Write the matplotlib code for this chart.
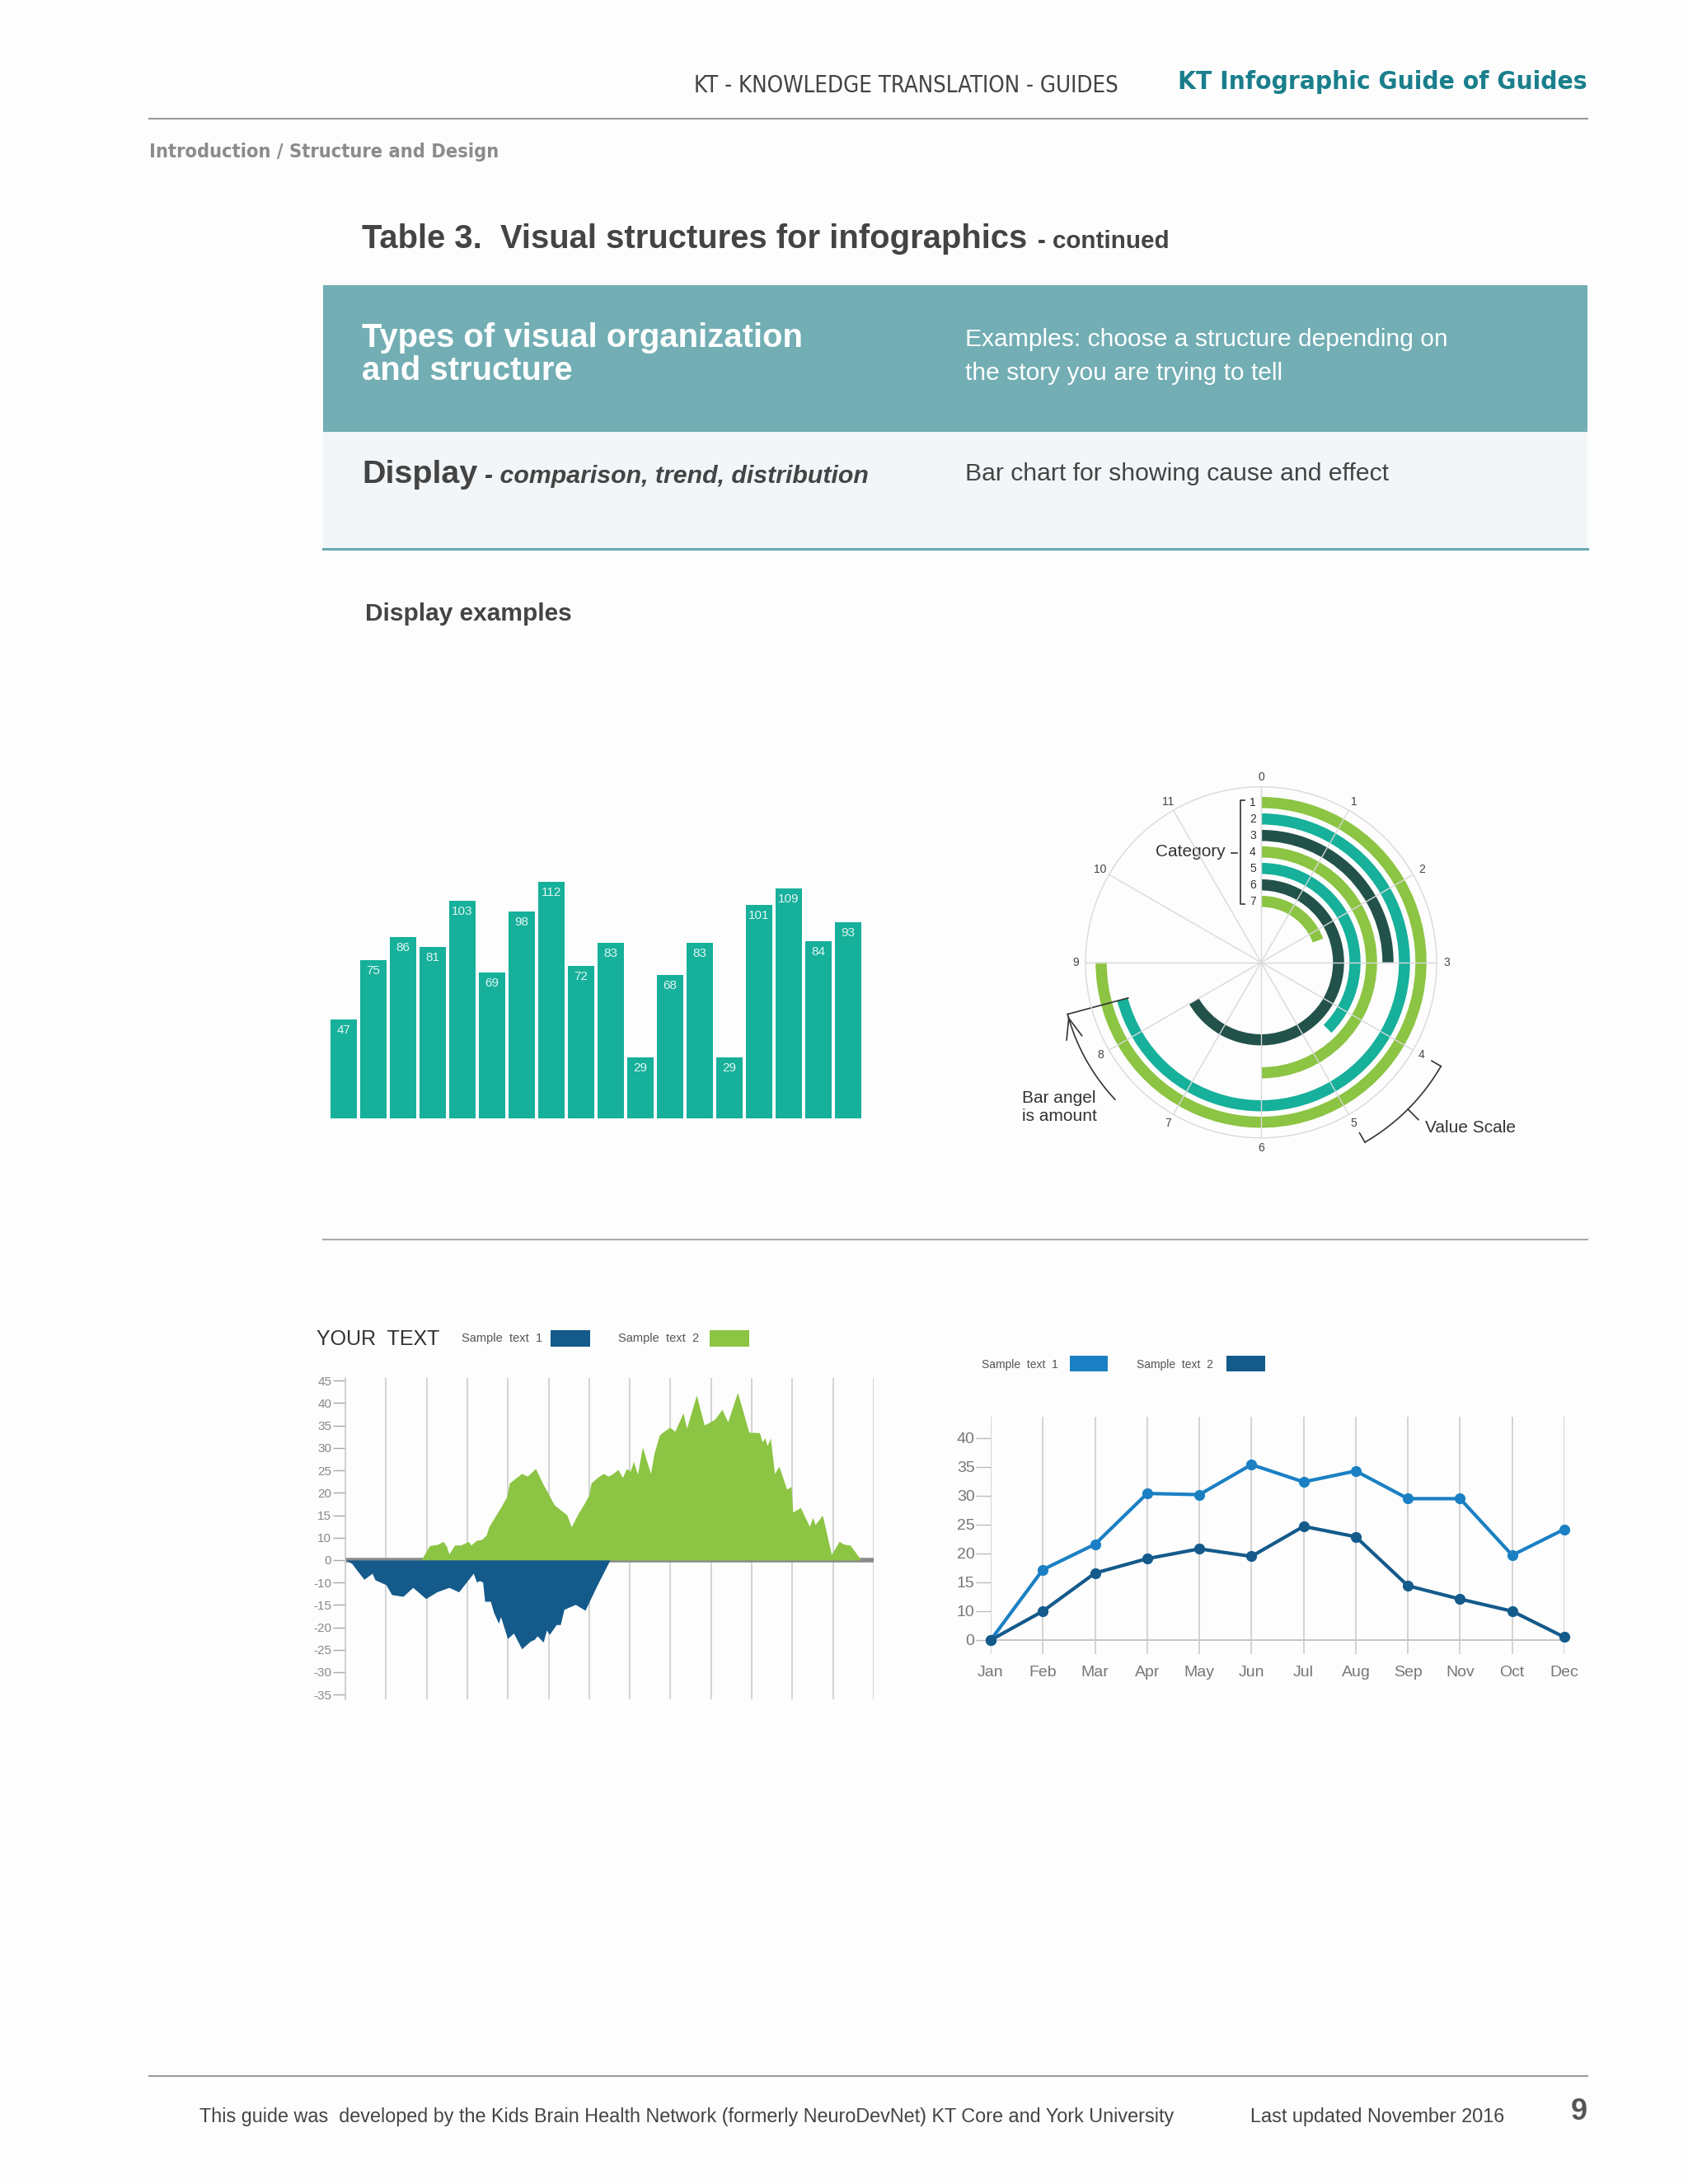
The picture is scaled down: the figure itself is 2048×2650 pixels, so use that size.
import numpy as np
import matplotlib
matplotlib.use('Agg')
import matplotlib.pyplot as plt
from matplotlib.patches import Rectangle
from matplotlib import font_manager

W, H = 2048, 2650

_fonts = font_manager.fontManager.ttflist
_names = {f.name for f in _fonts}
if 'Liberation Sans Narrow' in _names:
    NARROW = dict(family='Liberation Sans Narrow')
elif any(f.name == 'DejaVu Sans' and 'condensed' in str(f.stretch) for f in _fonts):
    NARROW = dict(family='DejaVu Sans', fontstretch='condensed')
else:
    NARROW = dict(family='Liberation Sans')
plt.rcParams['font.family'] = ['Liberation Sans', 'DejaVu Sans']

# colours
TEAL = '#16b09b'
GREEN = '#8cc443'
DARK = '#22524a'
BLUE = '#145a8b'
LIGHTBLUE = '#1b80c3'
GRID = '#cccccc'

# bar chart data
bar_values = [47, 75, 86, 81, 103, 69, 98, 112, 72, 83, 29, 68, 83, 29, 101, 109, 84, 93]

# radial bar chart data (angle in clock hours)
ring_cats = [1, 2, 3, 4, 5, 6, 7]
ring_hours = [9, 8.5, 3, 6, 4.5, 8, 2.3]
ring_colors = [GREEN, TEAL, DARK, GREEN, TEAL, DARK, GREEN]
hour_labels = [str(h) for h in range(12)]

# area chart data (x in grid intervals)
green_x = [1.865, 2.07, 2.16, 2.27, 2.41, 2.49, 2.55, 2.69, 2.84, 3.03, 3.09, 3.23, 3.36,
           3.47, 3.53, 3.67, 3.84, 3.97, 4.04, 4.21, 4.34, 4.48, 4.68, 4.85, 5.00, 5.14,
           5.32, 5.45, 5.56, 5.73, 5.86, 5.99, 6.05, 6.20, 6.35, 6.47, 6.59, 6.71, 6.82,
           6.92, 7.01, 7.09, 7.19, 7.31, 7.51, 7.60, 7.73, 7.84, 7.98, 8.11, 8.31, 8.40,
           8.64, 8.83, 8.96, 9.09, 9.27, 9.41, 9.65, 9.93, 10.19, 10.26, 10.32, 10.38,
           10.46, 10.56, 10.67, 10.86, 10.97, 11.01, 11.20, 11.42, 11.50, 11.56, 11.74,
           11.96, 12.15, 12.28, 12.42, 12.69]
green_y = [0, 6.4, 6.7, 7.0, 8.3, 6.1, 2.7, 6.7, 6.7, 8.3, 6.7, 8.8, 9.2,
           10.6, 12.4, 14.5, 17.0, 19.1, 22.2, 23.4, 24.3, 23.7, 25.4, 22.2, 19.7, 17.3,
           16.0, 15.1, 12.4, 15.4, 17.3, 19.4, 22.2, 23.4, 24.3, 23.7, 24.3, 25.2, 23.4,
           25.4, 24.8, 27.0, 24.1, 30.2, 24.3, 28.9, 32.9, 33.7, 34.6, 33.7, 37.8, 34.4,
           41.8, 35.1, 35.7, 36.4, 38.6, 35.8, 42.4, 33.5, 33.4, 31.3, 32.3, 30.5,
           32.2, 24.3, 25.9, 20.8, 21.4, 15.7, 16.7, 12.5, 14.5, 12.9, 15.0,
           2.5, 8.3, 7.0, 6.7, 0]
blue_x = [0, 0.16, 0.29, 0.46, 0.66, 0.73, 1.0, 1.14, 1.42, 1.66, 1.98, 2.25, 2.55, 2.79,
          3.15, 3.23, 3.30, 3.38, 3.43, 3.57, 3.65, 3.77, 3.82, 3.99, 4.14, 4.34, 4.55,
          4.65, 4.72, 4.87, 4.95, 5.02, 5.19, 5.29, 5.38, 5.66, 5.90, 6.20, 6.51]
blue_y = [0, -1.5, -4.7, -8.6, -5.9, -8.8, -10.5, -12.7, -13.1, -11.1, -13.6, -12.1, -11.1, -12.1,
          -5.9, -9.8, -9.2, -9.8, -14.2, -14.2, -16.7, -19.1, -17.6, -22.5, -21.3, -24.8, -23.1,
          -22.7, -21.9, -23.3, -20.6, -21.6, -19.4, -19.4, -16.0, -14.9, -16.2, -10.5, 0]
area_ticks = [-35, -30, -25, -20, -15, -10, 0, 10, 15, 20, 25, 30, 35, 40, 45]

# line chart data
months = ['Jan', 'Feb', 'Mar', 'Apr', 'May', 'Jun', 'Jul', 'Aug', 'Sep', 'Nov', 'Oct', 'Dec']
series1 = [0, 17.2, 21.6, 30.4, 30.2, 35.4, 32.4, 34.3, 29.5, 29.5, 19.7, 24.2]
series2 = [0, 10, 16.6, 19.1, 20.8, 19.5, 24.7, 22.9, 14.4, 12.1, 10, 1]
line_ticks = [0, 10, 15, 20, 25, 30, 35, 40]


def frame(x0, y0, x1, y1):
    # pixel box (top-down) -> figure fraction
    return [x0 / W, 1 - y1 / H, (x1 - x0) / W, (y1 - y0) / H]


# the axis in these templates skips 5 / -5: 0..10 takes one step
def squeeze(y):
    y = np.asarray(y, dtype=float)
    return np.where(np.abs(y) < 10, y / 2, np.sign(y) * (np.abs(y) - 5))


def unsqueeze(u):
    u = np.asarray(u, dtype=float)
    return np.where(np.abs(u) < 5, u * 2, np.sign(u) * (np.abs(u) + 5))


fig = plt.figure(figsize=(W / 100, H / 100), dpi=100)
fig.patch.set_facecolor('#fdfdfd')
renderer = fig.canvas.get_renderer()

page = fig.add_axes([0, 0, 1, 1])
page.set_xlim(0, W)
page.set_ylim(H, 0)
page.axis('off')


def fit(t, width_px):
    # scale the font so the text spans the width it has on the page
    w = t.get_window_extent(renderer).width
    t.set_fontsize(t.get_fontsize() * width_px / w)
    return t.get_fontsize()


# header
fit(page.text(1357, 104, 'KT - KNOWLEDGE TRANSLATION - GUIDES', ha='right', va='center',
              fontsize=20, color='#444444', **NARROW), 517)
fit(page.text(1926, 99, 'KT Infographic Guide of Guides', ha='right', va='center',
              fontsize=27, color='#1a7f8c', weight='bold', **NARROW), 495)
page.plot([181, 1926], [144, 144], color='#9a9a9a', lw=1.5)
fit(page.text(181, 185, 'Introduction / Structure and Design', ha='left', va='center',
              fontsize=20, color='#8c8c8c', weight='bold', **NARROW), 424)

fit(page.text(439, 301, 'Table 3.  Visual structures for infographics', ha='left', va='baseline',
              fontsize=25, color='#444444', weight='bold'), 808)
fit(page.text(1259, 301, '- continued', ha='left', va='baseline',
              fontsize=18, color='#444444', weight='bold'), 160)

page.add_patch(Rectangle((392, 346), 1534, 178, color='#72aeb4', lw=0))
page.add_patch(Rectangle((392, 524), 1534, 141, color='#f2f6f8', lw=0))
page.plot([392, 1926], [666, 666], color='#6aa9ae', lw=2.2)

fs = fit(page.text(439, 410, 'Types of visual organization', ha='left', va='center',
                   fontsize=23, color='white', weight='bold'), 536)
page.text(439, 450, 'and structure', ha='left', va='center',
          fontsize=fs, color='white', weight='bold')
fs = fit(page.text(1171, 412, 'Examples: choose a structure depending on', ha='left', va='center',
                   fontsize=19, color='white'), 586)
page.text(1171, 453, 'the story you are trying to tell', ha='left', va='center',
          fontsize=fs, color='white')
fit(page.text(439, 586, 'Display', ha='left', va='baseline',
              fontsize=26, color='#444444', weight='bold'), 140)
fit(page.text(588, 586, '- comparison, trend, distribution', ha='left', va='baseline',
              fontsize=19, color='#444444', weight='bold', style='italic'), 465)
fit(page.text(1171, 575, 'Bar chart for showing cause and effect', ha='left', va='center',
              fontsize=19, color='#444444'), 514)

fit(page.text(443, 745, 'Display examples', ha='left', va='center',
              fontsize=20, color='#444444', weight='bold'), 250)
page.plot([392, 1926], [1504, 1504], color='#aaaaaa', lw=1.5)

# footer
page.plot([181, 1926], [2519, 2519], color='#9a9a9a', lw=1.5)
fit(page.text(242, 2569, 'This guide was  developed by the Kids Brain Health Network (formerly NeuroDevNet) KT Core and York University',
              ha='left', va='center', fontsize=16, color='#444444'), 1183)
fit(page.text(1517, 2569, 'Last updated November 2016', ha='left', va='center',
              fontsize=16, color='#444444'), 309)
page.text(1926, 2563, '9', ha='right', va='center', fontsize=26, color='#555555', weight='bold')

# ---- bar chart ----
ax_bar = fig.add_axes(frame(398.7, 1040, 1046.7, 1357))
xs = np.arange(len(bar_values))
ax_bar.bar(xs, bar_values, width=0.9, color=TEAL, lw=0)
for x, v in zip(xs, bar_values):
    ax_bar.annotate(str(v), (x, v), xytext=(0, -13), textcoords='offset pixels',
                    ha='center', va='center', fontsize=11, color='#e2f6f1')
ax_bar.set_xlim(-0.5, len(bar_values) - 0.5)
ax_bar.set_ylim(0, 123.7)
ax_bar.axis('off')

# ---- radial bar chart ----
CX, CY, R_OUT = 1530, 1167.7, 213


def th(h):
    return np.deg2rad(np.asarray(h, dtype=float) * 30)


ring_r = [194 - 20 * (c - 1) for c in ring_cats]
ax_rad = fig.add_axes(frame(CX - R_OUT, CY - R_OUT, CX + R_OUT, CY + R_OUT), projection='polar')
ax_rad.set_theta_zero_location('N')
ax_rad.set_theta_direction(-1)
ax_rad.barh(ring_r, th(ring_hours), left=0, height=13.5, color=ring_colors, lw=0)
ax_rad.set_ylim(0, R_OUT)
ax_rad.set_yticks([])
ax_rad.set_xticks(th(np.arange(12)))
ax_rad.set_xticklabels([])
ax_rad.xaxis.grid(True, color='#d9d9d9', lw=1)
ax_rad.set_axisbelow(False)
ax_rad.spines['polar'].set_color('#d9d9d9')
ax_rad.spines['polar'].set_linewidth(1)
ax_rad.set_facecolor('none')
for h, lab in enumerate(hour_labels):
    ax_rad.text(th(h), 225, lab, ha='center', va='center', fontsize=10, color='#444444')

# "bar angle" arrow, from the end of category 2
ang_end = ring_hours[1]
ax_rad.plot([th(ang_end)] * 2, [167, 243], color='#333333', lw=1.2, clip_on=False)
arc_h = np.linspace(7.56, ang_end, 40)
ax_rad.plot(th(arc_h), [243] * len(arc_h), color='#333333', lw=1.2, clip_on=False)
ax_rad.annotate('', xy=(th(ang_end), 243), xytext=(th(ang_end - 0.05), 243),
                arrowprops=dict(arrowstyle='->,head_length=0.9,head_width=0.35',
                                color='#333333', lw=1.2, mutation_scale=20),
                annotation_clip=False)

# value scale bracket between 4 and 5
sc_h = np.linspace(4, 5, 40)
ax_rad.plot(th(sc_h), [252] * len(sc_h), color='#333333', lw=1.2, clip_on=False)
for h in (4, 5):
    ax_rad.plot([th(h)] * 2, [239, 252], color='#333333', lw=1.2, clip_on=False)
ax_rad.plot([th(4.5)] * 2, [252, 270], color='#333333', lw=1.2, clip_on=False)

# category bracket and numbers
ys = [CY - r for r in ring_r]
page.plot([1510, 1505, 1505, 1510], [ys[0] - 3, ys[0] - 3, ys[-1] + 3, ys[-1] + 3],
          color='#333333', lw=1.2)
page.plot([1494, 1501], [ys[3] + 1, ys[3] + 1], color='#333333', lw=1.2)
for c, y in zip(ring_cats, ys):
    page.text(1520, y, str(c), ha='center', va='center', fontsize=10, color='#333333')
page.text(1487, ys[3], 'Category', ha='right', va='center', fontsize=15, color='#333333')
page.text(1240, 1332, 'Bar angel', ha='left', va='center', fontsize=15, color='#333333')
page.text(1240, 1355, 'is amount', ha='left', va='center', fontsize=15, color='#333333')
page.text(1729, 1368, 'Value Scale', ha='left', va='center', fontsize=15, color='#333333')

# ---- area chart ----
ax_area = fig.add_axes(frame(419, 1672, 1060, 2062))
ax_area.set_yscale('function', functions=(squeeze, unsqueeze))
ax_area.axhline(0, color='#8a8a8a', lw=4, zorder=1)
ax_area.fill_between(green_x, 0, green_y, color=GREEN, lw=0, zorder=2)
ax_area.fill_between(blue_x, 0, blue_y, color=BLUE, lw=0, zorder=2)
ax_area.set_xlim(0, 13)
ax_area.set_ylim(-36.07, 45.6)
ax_area.set_xticks(np.arange(14))
ax_area.set_xticklabels([])
ax_area.tick_params(axis='x', length=0)
ax_area.grid(axis='x', color=GRID, lw=1.2, zorder=0)
ax_area.set_axisbelow(True)
ax_area.set_yticks(area_ticks)
ax_area.set_yticklabels([str(t) for t in area_ticks])
ax_area.yaxis.set_minor_locator(matplotlib.ticker.NullLocator())
ax_area.tick_params(axis='y', length=11, width=1, color='#aaaaaa', labelsize=11,
                    labelcolor='#888888', pad=1)
for s in ('top', 'right', 'bottom'):
    ax_area.spines[s].set_visible(False)
ax_area.spines['left'].set_color(GRID)
ax_area.spines['left'].set_linewidth(1.2)
ax_area.set_facecolor('none')

page.text(384, 1625, 'YOUR  TEXT', ha='left', va='center', fontsize=18, color='#333333')
page.text(560, 1624, 'Sample  text  1', ha='left', va='center', fontsize=10.5, color='#555555')
page.add_patch(Rectangle((668, 1614), 48, 20, color=BLUE, lw=0))
page.text(750, 1624, 'Sample  text  2', ha='left', va='center', fontsize=10.5, color='#555555')
page.add_patch(Rectangle((861, 1614), 48, 20, color=GREEN, lw=0))

# ---- line chart ----
ax_line = fig.add_axes(frame(1202, 1719, 1898, 2007))
ax_line.set_yscale('function', functions=(squeeze, unsqueeze))
mx = np.arange(len(months))
ax_line.axhline(0, color='#bbbbbb', lw=1.2, zorder=1)
ax_line.plot(mx, series1, color=LIGHTBLUE, lw=3, marker='o', ms=8.5, clip_on=False, zorder=3)
ax_line.plot(mx, series2, color=BLUE, lw=3, marker='o', ms=8.5, clip_on=False, zorder=3)
ax_line.set_xlim(0, len(months) - 1)
ax_line.set_ylim(-4.86, 43.7)
ax_line.set_xticks(mx)
ax_line.set_xticklabels(months)
ax_line.tick_params(axis='x', length=0, pad=10, labelsize=14, labelcolor='#777777')
ax_line.grid(axis='x', color=GRID, lw=1.2, zorder=0)
ax_line.set_yticks(line_ticks)
ax_line.set_yticklabels([str(t) for t in line_ticks])
ax_line.yaxis.set_minor_locator(matplotlib.ticker.NullLocator())
ax_line.tick_params(axis='y', length=13, width=1, color='#bbbbbb', labelsize=14,
                    labelcolor='#777777', pad=1)
for s in ('top', 'right', 'bottom', 'left'):
    ax_line.spines[s].set_visible(False)
ax_line.set_facecolor('none')

page.text(1191, 1656, 'Sample  text  1', ha='left', va='center', fontsize=10, color='#555555')
page.add_patch(Rectangle((1298, 1645), 46, 19, color=LIGHTBLUE, lw=0))
page.text(1379, 1656, 'Sample  text  2', ha='left', va='center', fontsize=10, color='#555555')
page.add_patch(Rectangle((1488, 1645), 47, 19, color=BLUE, lw=0))

fig.savefig('out.png', dpi=100, facecolor=fig.get_facecolor())
